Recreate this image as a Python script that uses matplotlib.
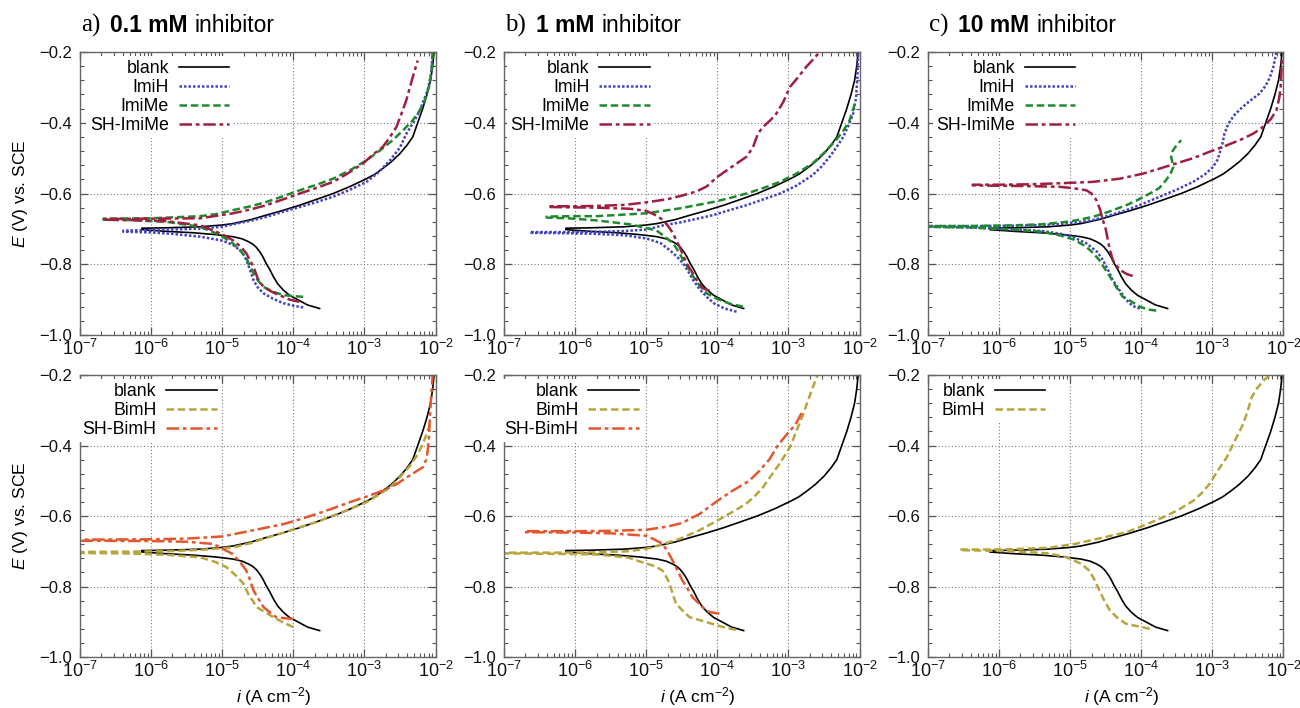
import numpy as np
import matplotlib
matplotlib.use("Agg")
import matplotlib.pyplot as plt
from matplotlib.ticker import LogLocator, MultipleLocator, FixedLocator, FuncFormatter, NullFormatter

plt.rcParams["font.family"] = ["Liberation Sans", "DejaVu Sans"]
plt.rcParams["mathtext.fontset"] = "custom"
plt.rcParams["mathtext.rm"] = "Liberation Sans"
plt.rcParams["mathtext.it"] = "Liberation Sans:italic"
plt.rcParams["mathtext.bf"] = "Liberation Sans:bold"

# ---- data: log10(i / A cm^-2) and E (V vs SCE), cathodic end -> Ecorr -> anodic end
blank_logi = [-3.63, -3.80, -3.91, -4.05, -4.14, -4.22, -4.28, -4.33, -4.38, -4.43, -4.47, -4.52, -4.57,
              -4.63, -4.72, -4.85, -5.10, -5.40, -5.78, -6.13,
              -6.13, -5.80, -5.31, -5.00, -4.85, -4.60, -4.38, -4.15, -3.91, -3.68, -3.44, -3.20,
              -2.97, -2.85, -2.74, -2.62, -2.50, -2.40, -2.32, -2.25, -2.18, -2.12, -2.07, -2.04, -2.02]
blank_E = [-0.925, -0.915, -0.903, -0.888, -0.873, -0.855, -0.835, -0.815, -0.798, -0.778, -0.765, -0.752, -0.743,
           -0.736, -0.728, -0.722, -0.716, -0.711, -0.707, -0.702,
           -0.698, -0.697, -0.694, -0.689, -0.685, -0.674, -0.661, -0.648, -0.633, -0.617, -0.600, -0.580,
           -0.558, -0.545, -0.529, -0.510, -0.487, -0.463, -0.440, -0.400, -0.360, -0.320, -0.280, -0.240, -0.200]

# 0.1 mM
imih_a_logi = [-3.86, -4.00, -4.14, -4.28, -4.42, -4.50, -4.56, -4.61, -4.66, -4.72, -4.85, -5.00, -5.31,
               -5.70, -6.00, -6.39,
               -6.39, -6.00, -5.60, -5.31, -5.00, -4.85, -4.60, -4.38, -4.15, -3.91, -3.67, -3.44, -3.20,
               -2.97, -2.80, -2.64, -2.50, -2.41, -2.30, -2.22, -2.11, -2.06, -2.04]
imih_a_E = [-0.922, -0.917, -0.910, -0.898, -0.882, -0.865, -0.845, -0.815, -0.788, -0.765, -0.745, -0.733, -0.722,
            -0.714, -0.710, -0.708,
            -0.705, -0.703, -0.701, -0.699, -0.694, -0.687, -0.677, -0.666, -0.652, -0.638, -0.624, -0.609, -0.589,
            -0.567, -0.540, -0.506, -0.470, -0.431, -0.395, -0.365, -0.308, -0.260, -0.200]
imime_a_logi = [-3.86, -4.00, -4.14, -4.28, -4.42, -4.50, -4.56, -4.61, -4.66, -4.75, -4.85, -4.97, -5.08,
                -5.31, -5.78, -6.30, -6.67,
                -6.67, -6.00, -5.31, -5.08, -4.85, -4.60, -4.38, -4.15, -3.91, -3.67, -3.44, -3.20, -2.97,
                -2.78, -2.60, -2.45, -2.32, -2.22, -2.15, -2.08, -2.05, -2.04]
imime_a_E = [-0.892, -0.890, -0.887, -0.878, -0.864, -0.845, -0.826, -0.805, -0.783, -0.760, -0.741, -0.725, -0.713,
             -0.694, -0.680, -0.675, -0.674,
             -0.671, -0.670, -0.664, -0.658, -0.647, -0.636, -0.624, -0.608, -0.591, -0.575, -0.558, -0.534, -0.506,
             -0.478, -0.449, -0.420, -0.393, -0.365, -0.336, -0.289, -0.240, -0.200]
shimime_a_logi = [-3.91, -4.05, -4.14, -4.28, -4.42, -4.50, -4.56, -4.62, -4.66, -4.74, -4.85, -5.00, -5.31,
                  -5.78, -6.30, -6.67,
                  -6.67, -6.00, -5.31, -4.85, -4.60, -4.38, -4.15, -3.91, -3.67, -3.44, -3.25, -3.02, -2.88,
                  -2.74, -2.64, -2.55, -2.48, -2.41, -2.36, -2.32, -2.25]
shimime_a_E = [-0.906, -0.900, -0.892, -0.880, -0.864, -0.840, -0.807, -0.785, -0.769, -0.750, -0.732, -0.715, -0.690,
               -0.678, -0.675, -0.674,
               -0.672, -0.671, -0.670, -0.656, -0.645, -0.633, -0.617, -0.600, -0.584, -0.567, -0.545, -0.515, -0.490,
               -0.468, -0.440, -0.412, -0.375, -0.336, -0.300, -0.271, -0.224]

# 1 mM
imih_b_logi = [-3.73, -3.90, -4.05, -4.15, -4.25, -4.34, -4.41, -4.48, -4.57, -4.67, -4.80, -5.00, -5.30,
               -5.70, -6.20, -6.63,
               -6.63, -6.20, -5.70, -5.30, -5.00, -4.76, -4.53, -4.30, -4.06, -3.83, -3.59, -3.36, -3.12,
               -2.89, -2.66, -2.54, -2.42, -2.32, -2.23, -2.15, -2.09, -2.05, -2.03, -2.02]
imih_b_E = [-0.934, -0.925, -0.910, -0.892, -0.870, -0.845, -0.820, -0.798, -0.778, -0.760, -0.740, -0.727, -0.718,
            -0.714, -0.712, -0.711,
            -0.709, -0.709, -0.708, -0.706, -0.702, -0.690, -0.682, -0.672, -0.661, -0.647, -0.633, -0.617, -0.600,
            -0.578, -0.548, -0.525, -0.496, -0.468, -0.440, -0.405, -0.374, -0.330, -0.270, -0.205]
imime_b_logi = [-3.64, -3.83, -4.00, -4.15, -4.25, -4.34, -4.41, -4.48, -4.55, -4.62, -4.75, -4.86, -5.10,
                -5.23, -5.70, -6.10, -6.40,
                -6.40, -6.00, -5.70, -5.00, -4.53, -4.06, -3.83, -3.59, -3.36, -3.12, -2.89, -2.66, -2.50,
                -2.33, -2.22, -2.14, -2.05]
imime_b_E = [-0.920, -0.911, -0.898, -0.882, -0.860, -0.835, -0.810, -0.788, -0.763, -0.741, -0.720, -0.704, -0.693,
             -0.687, -0.676, -0.670, -0.668,
             -0.665, -0.664, -0.664, -0.656, -0.642, -0.624, -0.613, -0.600, -0.585, -0.567, -0.544, -0.515, -0.485,
             -0.449, -0.420, -0.393, -0.336]
shimime_b_logi = [-4.11, -4.20, -4.29, -4.36, -4.43, -4.48, -4.53, -4.58, -4.62, -4.70, -4.76, -4.88, -5.00,
                  -5.23, -5.70, -6.10, -6.38,
                  -6.38, -6.00, -5.70, -5.30, -5.00, -4.70, -4.50, -4.29, -4.15, -4.00, -3.80, -3.59, -3.50,
                  -3.43, -3.36, -3.25, -3.17, -3.07, -2.98, -2.86, -2.75, -2.65, -2.56]
shimime_b_E = [-0.875, -0.868, -0.845, -0.820, -0.798, -0.775, -0.751, -0.732, -0.713, -0.690, -0.675, -0.660, -0.649,
               -0.643, -0.640, -0.639, -0.638,
               -0.636, -0.636, -0.635, -0.632, -0.625, -0.616, -0.606, -0.594, -0.580, -0.553, -0.525, -0.496, -0.470,
               -0.431, -0.412, -0.392, -0.374, -0.340, -0.299, -0.270, -0.242, -0.220, -0.200]

# 10 mM
imih_c_logi = [-4.02, -4.12, -4.21, -4.30, -4.40, -4.47, -4.54, -4.62, -4.77, -4.95, -5.15, -5.40, -5.80,
               -6.40, -6.98,
               -6.98, -6.40, -5.80, -5.40, -5.00, -4.68, -4.45, -4.21, -3.98, -3.74, -3.50, -3.27, -3.10,
               -2.99, -2.93, -2.90, -2.86, -2.83, -2.78, -2.70, -2.60, -2.52, -2.42, -2.34, -2.25, -2.19,
               -2.14, -2.10]
imih_c_E = [-0.925, -0.918, -0.901, -0.875, -0.845, -0.815, -0.788, -0.765, -0.741, -0.724, -0.713, -0.706, -0.701,
            -0.696, -0.694,
            -0.692, -0.692, -0.691, -0.689, -0.684, -0.675, -0.662, -0.647, -0.629, -0.609, -0.589, -0.567, -0.545,
            -0.525, -0.505, -0.487, -0.460, -0.431, -0.405, -0.380, -0.360, -0.346, -0.330, -0.318, -0.295, -0.271,
            -0.240, -0.200]
imime_c_logi = [-3.79, -3.90, -4.02, -4.14, -4.26, -4.35, -4.44, -4.52, -4.59, -4.68, -4.77, -4.95, -5.15,
                -5.40, -5.80, -6.40, -7.00,
                -7.00, -6.40, -5.80, -5.40, -5.00, -4.68, -4.45, -4.21, -4.05, -3.88, -3.75, -3.65, -3.58,
                -3.55, -3.57, -3.58, -3.56, -3.52, -3.48, -3.44]
imime_c_E = [-0.931, -0.928, -0.920, -0.905, -0.892, -0.865, -0.835, -0.810, -0.788, -0.768, -0.751, -0.730, -0.718,
             -0.708, -0.702, -0.696, -0.694,
             -0.692, -0.692, -0.690, -0.687, -0.679, -0.666, -0.651, -0.633, -0.618, -0.600, -0.585, -0.562, -0.540,
             -0.525, -0.505, -0.496, -0.480, -0.468, -0.459, -0.449]
shimime_c_logi = [-4.12, -4.20, -4.30, -4.36, -4.40, -4.44, -4.47, -4.50, -4.54, -4.58, -4.63, -4.70, -4.77,
                  -4.95, -5.15, -5.60, -6.00, -6.37,
                  -6.37, -6.00, -5.60, -5.15, -4.68, -4.30, -3.98, -3.75, -3.51, -3.27, -3.04, -2.80, -2.57,
                  -2.42, -2.29, -2.18, -2.10, -2.06, -2.04, -2.03, -2.02]
shimime_c_E = [-0.833, -0.828, -0.816, -0.800, -0.788, -0.760, -0.732, -0.700, -0.675, -0.645, -0.619, -0.600, -0.591,
               -0.585, -0.581, -0.579, -0.578, -0.577,
               -0.575, -0.575, -0.574, -0.571, -0.567, -0.558, -0.544, -0.530, -0.515, -0.500, -0.482, -0.464, -0.445,
               -0.430, -0.412, -0.390, -0.365, -0.330, -0.299, -0.260, -0.214]

# benzimidazole series
bimh_a_logi = [-4.00, -4.14, -4.28, -4.40, -4.52, -4.57, -4.61, -4.66, -4.70, -4.80, -4.94, -5.10, -5.31,
               -5.78, -6.40, -6.98,
               -6.98, -6.40, -5.78, -5.31, -4.85, -4.60, -4.38, -4.15, -3.91, -3.67, -3.44, -3.20, -2.97,
               -2.80, -2.64, -2.50, -2.36, -2.25, -2.18, -2.12, -2.08]
bimh_a_E = [-0.915, -0.902, -0.887, -0.872, -0.858, -0.840, -0.830, -0.810, -0.792, -0.770, -0.745, -0.730, -0.717,
            -0.710, -0.706, -0.705,
            -0.702, -0.701, -0.700, -0.696, -0.689, -0.677, -0.662, -0.648, -0.632, -0.617, -0.599, -0.580, -0.561,
            -0.540, -0.519, -0.490, -0.458, -0.425, -0.396, -0.365, -0.340]
shbimh_a_logi = [-4.00, -4.12, -4.24, -4.33, -4.42, -4.49, -4.56, -4.61, -4.66, -4.75, -4.85, -5.00, -5.13,
                 -5.50, -6.00, -6.98,
                 -6.98, -6.00, -5.50, -5.00, -4.60, -4.14, -3.90, -3.67, -3.44, -3.21, -2.97, -2.74, -2.55,
                 -2.41, -2.30, -2.18, -2.13, -2.11, -2.09, -2.08, -2.06, -2.04]
shbimh_a_E = [-0.892, -0.890, -0.887, -0.873, -0.858, -0.835, -0.811, -0.780, -0.755, -0.730, -0.708, -0.692, -0.679,
              -0.673, -0.671, -0.670,
              -0.667, -0.666, -0.664, -0.658, -0.642, -0.623, -0.609, -0.594, -0.578, -0.561, -0.545, -0.528, -0.510,
              -0.491, -0.477, -0.462, -0.440, -0.415, -0.370, -0.321, -0.260, -0.200]
bimh_b_logi = [-3.74, -3.90, -4.07, -4.20, -4.39, -4.48, -4.58, -4.63, -4.67, -4.72, -4.77, -4.88, -5.00,
               -5.25, -5.70, -6.40, -7.00,
               -7.00, -6.40, -5.70, -5.25, -5.00, -4.77, -4.53, -4.25, -4.00, -3.80, -3.60, -3.48, -3.36,
               -3.25, -3.13, -3.05, -2.97, -2.91, -2.85, -2.80, -2.76, -2.71, -2.66, -2.59]
bimh_b_E = [-0.923, -0.916, -0.906, -0.898, -0.887, -0.870, -0.849, -0.820, -0.792, -0.772, -0.755, -0.742, -0.735,
            -0.718, -0.709, -0.707, -0.706,
            -0.704, -0.704, -0.703, -0.700, -0.693, -0.680, -0.665, -0.640, -0.613, -0.590, -0.566, -0.545, -0.519,
            -0.487, -0.453, -0.428, -0.401, -0.370, -0.340, -0.315, -0.292, -0.264, -0.236, -0.200]
shbimh_b_logi = [-3.97, -4.10, -4.16, -4.25, -4.35, -4.42, -4.49, -4.56, -4.63, -4.70, -4.77, -4.90, -5.00,
                 -5.50, -6.00, -6.71,
                 -6.71, -6.00, -5.50, -5.00, -4.70, -4.50, -4.25, -4.00, -3.80, -3.55, -3.40, -3.27, -3.15,
                 -3.03, -2.90, -2.80]
shbimh_b_E = [-0.877, -0.873, -0.868, -0.850, -0.830, -0.806, -0.783, -0.755, -0.726, -0.700, -0.679, -0.665, -0.656,
              -0.649, -0.647, -0.646,
              -0.643, -0.643, -0.642, -0.639, -0.630, -0.620, -0.594, -0.557, -0.530, -0.500, -0.470, -0.440, -0.400,
              -0.370, -0.340, -0.302]
bimh_c_logi = [-3.88, -4.00, -4.21, -4.33, -4.44, -4.52, -4.59, -4.66, -4.73, -4.85, -5.05, -5.30, -5.80,
               -6.20, -6.55,
               -6.55, -6.20, -5.80, -5.30, -4.93, -4.60, -4.21, -3.98, -3.74, -3.50, -3.27, -3.15, -3.04,
               -2.92, -2.80, -2.68, -2.57, -2.50, -2.45, -2.38, -2.29, -2.19]
bimh_c_E = [-0.920, -0.915, -0.906, -0.890, -0.868, -0.840, -0.811, -0.780, -0.755, -0.735, -0.717, -0.706, -0.700,
            -0.698, -0.697,
            -0.695, -0.695, -0.694, -0.690, -0.679, -0.664, -0.646, -0.628, -0.608, -0.585, -0.557, -0.535, -0.509,
            -0.470, -0.434, -0.385, -0.340, -0.300, -0.264, -0.240, -0.217, -0.200]

styles = {
    "blank":    dict(color="black",   lw=1.2, ls="-"),
    "ImiH":     dict(color="#4343c4", lw=1.8, ls=(0, (1, 0.8))),
    "ImiMe":    dict(color="#1e8a2e", lw=1.8, ls=(0, (3, 1.5))),
    "SH-ImiMe": dict(color="#9e1f40", lw=1.8, ls=(0, (5, 1.5, 1.5, 1.5))),
    "BimH":     dict(color="#b8a53c", lw=1.8, ls=(0, (3, 1.5))),
    "SH-BimH":  dict(color="#e4572e", lw=1.8, ls=(0, (5, 1.5, 1.5, 1.5))),
}

panels = [
    [("blank", blank_logi, blank_E), ("ImiH", imih_a_logi, imih_a_E),
     ("ImiMe", imime_a_logi, imime_a_E), ("SH-ImiMe", shimime_a_logi, shimime_a_E)],
    [("blank", blank_logi, blank_E), ("ImiH", imih_b_logi, imih_b_E),
     ("ImiMe", imime_b_logi, imime_b_E), ("SH-ImiMe", shimime_b_logi, shimime_b_E)],
    [("blank", blank_logi, blank_E), ("ImiH", imih_c_logi, imih_c_E),
     ("ImiMe", imime_c_logi, imime_c_E), ("SH-ImiMe", shimime_c_logi, shimime_c_E)],
    [("blank", blank_logi, blank_E), ("BimH", bimh_a_logi, bimh_a_E), ("SH-BimH", shbimh_a_logi, shbimh_a_E)],
    [("blank", blank_logi, blank_E), ("BimH", bimh_b_logi, bimh_b_E), ("SH-BimH", shbimh_b_logi, shbimh_b_E)],
    [("blank", blank_logi, blank_E), ("BimH", bimh_c_logi, bimh_c_E)],
]
tags = ["a)", "b)", "c)"]
concs = ["0.1 mM", "1 mM", "10 mM"]
legend_x = [0.43, 0.42, 0.425, 0.395, 0.39, 0.34]

fig = plt.figure(figsize=(13, 7.08), dpi=100)
lefts = [0.0615, 0.3877, 0.7138]
W = 0.2735
rows = [(0.5268, 0.3997), (0.072, 0.3983)]

minus = lambda v, _: f"{v:.1f}".replace("-", "\u2212")
axes = []
for k, curves in enumerate(panels):
    r, c = divmod(k, 3)
    ax = fig.add_axes([lefts[c], rows[r][0], W, rows[r][1]])
    axes.append(ax)
    for name, li, E in curves:
        ax.plot(10 ** np.array(li), E, label=name, **styles[name])
    ax.set_xscale("log")
    ax.set_xlim(1e-7, 1e-2)
    ax.set_ylim(-1.0, -0.2)
    ax.xaxis.set_major_locator(FixedLocator([1e-7, 1e-6, 1e-5, 1e-4, 1e-3, 1e-2]))
    ax.xaxis.set_minor_locator(LogLocator(base=10, subs=np.arange(2, 10)))
    ax.xaxis.set_minor_formatter(NullFormatter())
    ax.yaxis.set_major_locator(MultipleLocator(0.2))
    ax.yaxis.set_minor_locator(MultipleLocator(0.04))
    ax.yaxis.set_major_formatter(FuncFormatter(minus))
    ax.tick_params(which="both", direction="in", top=True, right=True, colors="#555555",
                   labelcolor="#111111", labelsize=12)
    ax.tick_params(axis="x", labelsize=13, pad=3)
    ax.tick_params(which="major", length=6, width=0.9)
    ax.tick_params(which="minor", length=3, width=0.8)
    ax.tick_params(axis="y", pad=6)
    for s in ax.spines.values():
        s.set_color("#666666")
        s.set_linewidth(1.0)
    ax.grid(True, which="major", color="#7a7a7a", ls=(0, (1, 2)), lw=0.8)
    ax.set_axisbelow(True)
    leg = ax.legend(loc="upper right", bbox_to_anchor=(legend_x[k], 0.985), markerfirst=False,
                    fontsize=12.8, handlelength=2.85, handletextpad=0.55, labelspacing=0.12,
                    borderpad=0.2, borderaxespad=0.0, frameon=True, fancybox=False)
    leg.get_frame().set_edgecolor("none")
    leg.get_frame().set_facecolor("white")
    leg.get_frame().set_alpha(1.0)
    if c == 0:
        ax.set_ylabel(r"$\it{E}$ (V) vs. SCE", fontsize=12.5)
        ax.yaxis.set_label_coords(-0.14, 0.5)
    if r == 1:
        ax.set_xlabel(r"$\it{i}$ (A cm$^{-2}$)", fontsize=12.5)
        ax.xaxis.set_label_coords(0.545, -0.1)

# panel titles: serif tag + bold concentration + regular "inhibitor"
for c in range(3):
    t1 = fig.text(lefts[c] + 0.001, 0.955, tags[c], family="Liberation Serif", fontsize=18, va="baseline")
    t2 = axes[c].annotate(concs[c], xy=(1, 0.955), xycoords=(t1, "figure fraction"), xytext=(7, 0),
                          textcoords="offset points", va="baseline", fontsize=16.5, fontweight="bold")
    axes[c].annotate("inhibitor", xy=(1, 0.955), xycoords=(t2, "figure fraction"), xytext=(5, 0),
                     textcoords="offset points", va="baseline", fontsize=16.5)

fig.savefig("out.png", dpi=100)
